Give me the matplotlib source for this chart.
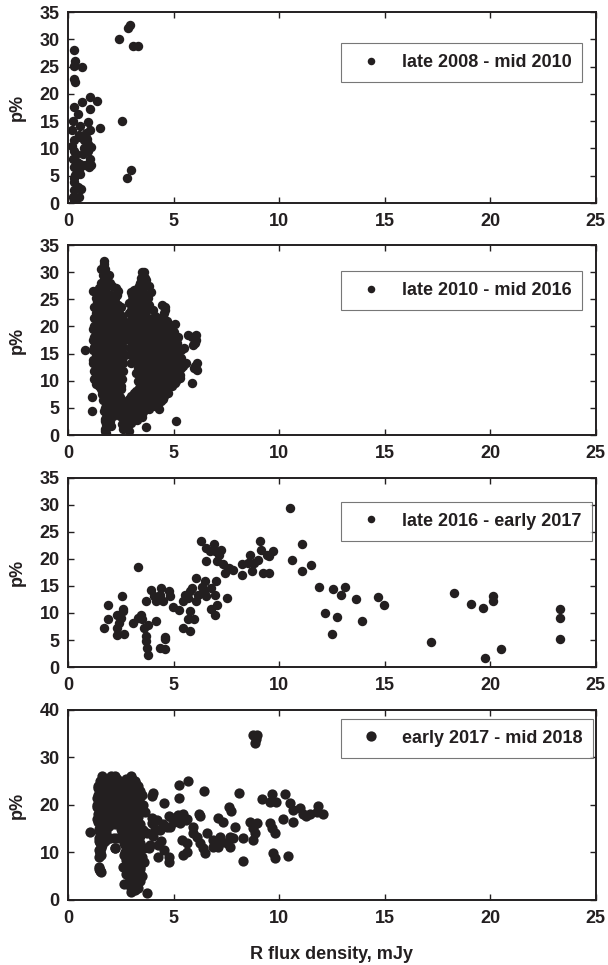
import numpy as np
import matplotlib
matplotlib.use('Agg')
import matplotlib.pyplot as plt

plt.rcParams['font.family'] = ['Liberation Sans', 'DejaVu Sans']
plt.rcParams['font.weight'] = 'bold'

ink = '#231f20'

labels = ['late 2008 - mid 2010', 'late 2010 - mid 2016',
          'late 2016 - early 2017', 'early 2017 - mid 2018']
y_max = [35, 35, 35, 40]
y_step = [5, 5, 5, 10]
x_ticks = [0, 5, 10, 15, 20, 25]

# late 2008 - mid 2010 (R flux, p%)
p1 = [(0.30, 28.1), (0.35, 26.1), (0.30, 25.2), (0.66, 24.9), (0.30, 22.8),
      (0.35, 22.2), (2.40, 30.0), (2.82, 32.0), (2.92, 32.6), (3.08, 28.8),
      (3.30, 28.8), (2.55, 15.0), (2.80, 4.6), (3.00, 6.0), (1.03, 19.4),
      (1.37, 18.7), (0.66, 18.5), (0.30, 17.6), (1.03, 17.3), (0.46, 16.4),
      (1.53, 13.7), (0.24, 15.1), (0.19, 13.4), (0.58, 14.2), (0.93, 14.8),
      (1.03, 13.3), (0.27, 11.5), (0.58, 12.1), (0.74, 11.5), (0.93, 10.9),
      (1.09, 10.3), (0.74, 10.0), (0.39, 9.0), (0.24, 8.1), (1.06, 8.1),
      (0.58, 7.2), (1.00, 6.6), (1.09, 7.0), (0.27, 6.6), (0.50, 6.0),
      (0.35, 5.1), (0.58, 5.4), (0.30, 3.8), (0.60, 2.6), (0.30, 2.3),
      (0.50, 1.1), (0.27, 0.5), (0.35, 0.2), (0.24, 1.1), (0.30, 9.5),
      (0.40, 7.5), (0.30, 4.5), (0.45, 3.0), (0.20, 10.5), (0.50, 12.5),
      (0.85, 12.8), (0.90, 11.8), (0.95, 9.5), (0.80, 7.0), (0.70, 9.0)]

# late 2010 - mid 2016, read row by row: (p%, [R flux ...])
p2_rows = [
    (32.0, [1.70]), (31.5, [1.72]), (30.5, [1.75, 1.55]), (29.5, [1.65, 1.95]),
    (28.5, [1.70, 1.85]), (28.0, [1.55, 2.00]), (27.5, [1.60, 1.90, 2.10]),
    (27.0, [1.45, 1.75, 2.25]), (26.5, [1.20, 1.75, 2.35]), (26.0, [1.35, 1.85]),
    (25.8, [1.55, 2.05, 2.30]), (25.2, [1.30, 1.75, 2.20]),
    (24.5, [1.35, 1.60, 1.90, 2.20]), (24.0, [1.50, 1.75, 2.05, 2.35]),
    (23.5, [1.25, 1.50, 1.80, 2.10, 2.50]), (23.0, [1.35, 1.65, 1.95, 2.30]),
    (22.5, [1.30, 1.65, 2.00, 2.40]), (22.0, [1.45, 1.80, 2.15, 2.55]),
    (21.5, [1.25, 1.50, 1.85, 2.20, 2.55]), (21.0, [1.35, 1.70, 2.05, 2.40]),
    (20.5, [1.35, 1.70, 2.05, 2.45]), (20.0, [1.25, 1.55, 1.90, 2.25, 2.60]),
    (19.5, [1.20, 1.50, 1.85, 2.25, 2.60]), (19.0, [1.35, 1.70, 2.05, 2.45]),
    (18.5, [1.30, 1.65, 2.00, 2.40]), (18.0, [1.25, 1.50, 1.85, 2.20, 2.55]),
    (17.5, [1.20, 1.50, 1.85, 2.20, 2.60]), (17.0, [1.30, 1.70, 2.05, 2.40]),
    (16.5, [1.35, 1.70, 2.05, 2.45]), (16.2, [1.25, 1.55, 1.90, 2.25, 2.60]),
    (15.7, [0.80, 1.20, 1.55, 1.90, 2.30]), (15.2, [1.45, 1.80, 2.15, 2.55]),
    (14.8, [1.30, 1.65, 2.00, 2.40, 2.70]), (14.3, [1.35, 1.70, 2.05, 2.40]),
    (13.8, [1.20, 1.50, 1.85, 2.20, 2.55]), (13.3, [1.20, 1.50, 1.85, 2.25, 2.60]),
    (12.8, [1.30, 1.65, 2.00, 2.40]), (12.3, [1.40, 1.75, 2.10, 2.45]),
    (11.8, [1.25, 1.55, 1.90, 2.25, 2.60]), (11.3, [1.30, 1.65, 2.00, 2.40]),
    (10.8, [1.30, 1.70, 2.05, 2.40]), (10.3, [1.25, 1.50, 1.85, 2.20, 2.55]),
    (9.8, [1.35, 1.65, 2.00, 2.35]), (9.4, [1.30, 1.65, 2.05, 2.40]),
    (9.0, [1.45, 1.85, 2.20, 2.50]), (8.5, [1.55, 1.85, 2.15, 2.50]),
    (8.0, [1.70, 2.00, 2.35]), (7.5, [1.60, 1.90, 2.25]),
    (7.0, [1.15, 1.75, 2.10, 2.45]), (6.5, [1.65, 1.95, 2.30]),
    (6.0, [1.80, 2.15, 2.50]), (5.5, [1.80, 2.10, 2.45]),
    (5.0, [1.75, 2.05, 2.40]), (4.5, [1.12, 1.70, 1.95, 2.30]),
    (4.0, [1.80, 2.10, 2.55]), (3.5, [1.85, 2.15, 2.45]),
    (3.0, [1.75, 2.00, 2.60]), (2.5, [1.75, 2.00, 2.70]), (2.0, [1.80, 2.55]),
    (1.6, [1.85, 2.05, 2.80]), (1.2, [1.75, 2.60]), (0.8, [1.75, 2.90]),
    (0.3, [1.80]),
    (30.0, [3.60, 3.50]), (29.5, [3.55]), (29.0, [3.45, 3.65]),
    (28.5, [3.50, 3.70]), (28.0, [3.40, 3.60]), (27.5, [3.35, 3.60, 3.85]),
    (27.0, [3.30, 3.55]), (26.8, [3.10, 3.45]), (26.3, [3.00, 3.30, 3.95]),
    (25.8, [3.05, 3.35, 3.70]), (25.3, [3.20, 3.50, 3.80]),
    (24.8, [3.05, 3.40, 3.70]), (24.3, [2.90, 3.25, 3.60]),
    (24.0, [3.10, 3.45, 3.85, 4.45]), (23.5, [3.10, 3.45, 3.80, 4.60]),
    (23.0, [3.00, 3.30, 3.60, 4.00, 4.60]), (22.5, [2.90, 3.30, 3.65, 4.55]),
    (22.0, [3.10, 3.50, 4.10, 4.50]), (21.5, [3.10, 3.45, 3.80, 4.40]),
    (21.0, [2.95, 3.30, 3.65, 4.00, 4.35, 4.70]),
    (20.5, [2.85, 3.20, 3.60, 4.20, 4.75, 5.05]),
    (20.0, [3.05, 3.40, 3.85, 4.35, 4.90]),
    (19.5, [3.00, 3.35, 3.75, 4.10, 4.60]),
    (19.0, [2.85, 3.20, 3.60, 3.95, 4.40, 4.80, 5.00]),
    (18.5, [3.20, 3.55, 3.90, 4.35, 4.80, 5.70, 6.05]),
    (18.0, [3.05, 3.45, 3.80, 4.20, 4.60, 5.20, 5.85]),
    (17.5, [2.90, 3.30, 3.65, 4.00, 4.45, 5.00, 6.05]),
    (17.0, [3.20, 3.55, 3.95, 4.35, 4.80, 5.15, 6.00]),
    (16.5, [3.10, 3.45, 3.80, 4.20, 4.70, 5.90]),
    (16.1, [2.95, 3.30, 3.65, 4.00, 4.45, 4.95, 5.50]),
    (15.7, [3.30, 3.70, 4.05, 4.50, 5.35]),
    (15.2, [3.15, 3.55, 3.90, 4.30, 4.75, 5.20]),
    (14.7, [3.00, 3.40, 3.85, 4.25, 4.65, 5.00]),
    (14.2, [3.35, 3.75, 4.15, 4.55, 5.00, 5.35]),
    (13.8, [3.20, 3.60, 4.00, 4.40, 4.85, 5.15]),
    (13.3, [3.00, 3.45, 3.90, 4.30, 4.75, 5.20, 5.60, 6.10]),
    (12.8, [3.40, 3.80, 4.20, 4.60, 5.00, 5.45, 6.00]),
    (12.4, [3.30, 3.70, 4.10, 4.50, 4.90, 5.35, 5.95]),
    (12.0, [3.50, 3.90, 4.35, 4.75, 5.20, 6.10]),
    (11.5, [3.20, 3.60, 4.00, 4.40, 4.80, 5.20]),
    (11.0, [3.70, 4.10, 4.50, 4.90, 5.30]),
    (10.5, [3.50, 3.80, 4.20, 4.60, 5.00, 5.30]),
    (10.0, [3.30, 3.90, 4.30, 4.70, 5.10]),
    (9.5, [3.40, 3.80, 4.20, 4.65, 5.05, 5.85]),
    (9.0, [3.60, 4.00, 4.45, 4.90]), (8.6, [3.35, 3.75, 4.15, 4.55]),
    (8.2, [3.20, 3.50, 3.85, 4.30, 4.70]), (7.7, [3.10, 3.50, 3.90, 4.30, 4.75]),
    (7.2, [3.00, 3.40, 3.75, 4.10, 4.55]), (6.7, [2.90, 3.30, 3.65, 4.05, 4.50]),
    (6.2, [2.80, 3.20, 3.55, 3.95, 4.40]), (5.8, [3.05, 3.45, 3.85, 4.25]),
    (5.3, [2.90, 3.30, 3.70, 4.10]), (4.8, [2.75, 3.10, 3.45, 3.85, 4.30]),
    (4.3, [2.80, 3.20, 3.55]), (3.8, [2.95, 3.35]), (3.3, [2.70, 3.10, 3.50]),
    (2.8, [2.85, 3.25]), (2.6, [5.10]), (2.3, [2.75, 3.00]), (1.4, [2.70, 3.70])]

# late 2016 - early 2017
p3 = [(1.69, 7.2), (1.88, 11.4), (1.88, 8.8), (2.33, 9.7), (2.33, 6.0),
      (2.30, 7.2), (2.42, 8.1), (2.51, 9.1), (2.60, 10.3), (2.55, 13.2),
      (2.64, 6.1), (2.60, 10.8), (3.33, 18.5), (3.06, 8.1), (3.33, 9.1),
      (3.46, 9.7), (3.50, 8.8), (3.60, 7.2), (3.70, 5.7), (3.70, 4.8),
      (3.75, 3.5), (3.79, 2.3), (3.70, 12.2), (3.79, 7.8), (3.93, 14.3),
      (4.06, 13.1), (4.15, 12.2), (4.33, 13.4), (4.42, 14.6), (4.51, 12.2),
      (4.15, 8.5), (4.37, 3.5), (4.60, 3.3), (4.60, 5.5), (4.60, 5.1),
      (4.78, 14.0), (4.84, 13.1), (4.97, 11.2), (5.25, 10.6), (5.43, 12.2),
      (5.52, 13.4), (5.43, 7.3), (5.70, 12.8), (5.79, 14.0), (5.88, 14.6),
      (5.79, 10.3), (5.70, 8.8), (5.79, 6.6), (5.97, 8.8), (6.07, 12.2),
      (6.07, 16.5), (6.16, 13.4), (6.30, 23.3), (6.34, 14.9), (6.43, 14.0),
      (6.48, 15.9), (6.52, 13.1), (6.52, 19.7), (6.52, 22.0), (6.70, 21.4),
      (6.79, 14.6), (6.79, 10.7), (6.92, 22.7), (6.98, 21.4), (7.00, 15.9),
      (6.94, 13.4), (7.07, 19.6), (7.07, 11.5), (6.98, 9.7), (7.16, 20.8),
      (7.25, 21.7), (7.34, 19.0), (7.43, 17.4), (7.52, 12.8), (7.61, 18.3),
      (7.80, 18.0), (8.25, 17.1), (8.25, 19.0), (8.52, 19.3), (8.61, 20.8),
      (8.71, 17.7), (8.80, 19.3), (8.98, 19.9), (9.07, 23.3), (9.16, 21.7),
      (9.25, 17.4), (9.43, 20.8), (9.52, 17.4), (9.71, 21.4), (9.52, 20.5),
      (10.50, 29.4), (10.62, 19.9), (11.07, 22.7), (11.07, 17.7), (11.49, 18.8),
      (11.89, 14.8), (12.17, 10.0), (12.53, 14.4), (12.50, 6.2), (12.75, 9.2),
      (12.93, 13.3), (13.10, 14.8), (13.66, 12.5), (13.90, 8.5), (14.68, 12.9),
      (14.95, 11.4), (17.18, 4.6), (18.30, 13.7), (19.09, 11.7), (19.64, 10.9),
      (19.73, 1.7), (20.13, 13.1), (20.13, 12.3), (20.51, 3.3), (23.28, 10.7),
      (23.31, 9.0), (23.31, 5.1)]

# early 2017 - mid 2018: dense part by rows, the rest as single points
p4_rows = [
    (26.0, [1.60, 2.05, 2.20, 3.00]), (25.5, [1.65, 1.95, 2.30, 2.75, 3.05]),
    (25.0, [1.50, 1.80, 2.10, 2.40, 2.90, 3.15]),
    (24.5, [1.55, 1.85, 2.15, 2.55, 2.85, 3.20]),
    (24.0, [1.40, 1.70, 2.00, 2.30, 2.70, 3.00, 3.30]),
    (23.5, [1.40, 1.70, 2.00, 2.35, 2.90, 3.25]),
    (23.0, [1.55, 1.85, 2.15, 2.50, 3.10, 3.40]),
    (22.5, [1.55, 1.85, 2.20, 2.60, 3.00, 3.35]),
    (22.0, [1.40, 1.70, 2.00, 2.40, 2.80, 3.20, 3.50]),
    (21.5, [1.35, 1.70, 2.05, 2.40, 2.80, 3.20]),
    (21.0, [1.50, 1.85, 2.20, 2.60, 3.00]),
    (20.5, [1.50, 1.85, 2.20, 2.60, 3.00, 3.40]),
    (20.0, [1.35, 1.65, 2.00, 2.35, 2.80, 3.20, 3.55]),
    (19.5, [1.35, 1.70, 2.05, 2.40, 2.80, 3.20]),
    (19.0, [1.50, 1.85, 2.20, 2.60, 3.00, 3.40]),
    (18.5, [1.55, 1.90, 2.25, 2.65, 3.05, 3.45]),
    (18.0, [1.40, 1.70, 2.05, 2.45, 2.85, 3.25]),
    (17.5, [1.50, 1.80, 2.15, 2.50, 2.90, 3.30]),
    (17.0, [1.35, 1.60, 1.95, 2.30, 2.70, 3.10]),
    (16.5, [1.40, 1.70, 2.05, 2.45, 2.80, 3.20]),
    (16.0, [1.50, 1.85, 2.20, 2.60, 3.00, 3.40]), (15.5, [1.60, 1.95, 2.70, 3.10]),
    (15.0, [1.45, 1.75, 2.50, 2.90, 3.30]), (14.5, [1.45, 1.80, 2.55, 2.95, 3.30]),
    (14.0, [1.60, 2.70, 3.10, 3.50]), (13.5, [1.60, 2.55, 3.00, 3.40]),
    (13.0, [1.45, 2.00, 2.30, 2.80, 3.20]), (12.5, [1.45, 1.75, 2.80, 3.20]),
    (12.0, [1.50, 2.65, 3.00, 3.40]), (11.5, [1.60, 2.70, 3.05, 3.40]),
    (11.0, [1.55, 2.20, 2.80, 3.20, 3.60]), (10.5, [1.45, 2.85, 3.20]),
    (10.0, [1.50, 2.70, 3.00, 3.35]), (9.5, [1.55, 2.65, 2.95, 3.30]),
    (9.0, [1.45, 2.75, 3.10, 3.50]), (8.5, [2.75, 3.10, 3.45]),
    (8.0, [2.90, 3.25, 3.60]), (7.5, [2.80, 3.20]), (7.0, [1.45, 2.60, 3.00, 3.40]),
    (6.5, [1.45, 3.05, 3.40]), (6.0, [1.50, 2.90, 3.25]), (5.5, [2.75, 3.05, 3.40]),
    (5.0, [2.90, 3.20, 3.50]), (4.5, [2.95, 3.30]), (4.0, [3.10, 3.40]),
    (3.3, [2.65, 3.20]), (2.5, [3.00, 3.30]), (2.0, [3.15]), (1.6, [3.00])]
p4 = [(1.06, 14.4), (8.77, 34.7), (8.93, 34.7), (8.90, 33.8), (8.85, 33.0),
      (5.70, 25.1), (5.23, 24.2), (6.44, 23.0), (8.11, 22.6), (10.27, 22.3),
      (9.64, 22.3), (5.23, 21.4), (4.52, 20.4), (7.64, 19.6), (7.70, 18.8),
      (6.20, 18.2), (6.23, 17.7), (5.43, 18.2), (5.62, 17.1), (4.76, 17.7),
      (5.00, 16.5), (5.31, 16.1), (7.12, 17.2), (7.35, 16.5), (7.90, 15.4),
      (8.61, 16.5), (8.77, 15.1), (8.93, 16.1), (9.56, 16.1), (9.80, 14.0),
      (9.64, 15.1), (10.19, 17.0), (10.50, 20.4), (9.56, 20.6), (9.87, 20.7),
      (9.17, 21.2), (10.66, 18.9), (10.98, 19.3), (11.14, 18.2), (10.66, 16.5),
      (11.45, 18.2), (11.77, 18.6), (11.85, 19.8), (12.08, 18.1), (11.29, 17.6),
      (5.94, 15.4), (6.10, 13.3), (5.90, 14.0), (5.39, 12.6), (5.62, 11.9),
      (5.43, 9.5), (5.62, 10.2), (6.25, 11.9), (6.41, 10.9), (6.49, 9.8),
      (6.88, 11.2), (7.12, 11.2), (7.28, 12.3), (7.51, 11.9), (7.67, 13.3),
      (7.83, 13.0), (7.67, 11.2), (7.20, 13.3), (6.88, 12.6), (6.57, 14.0),
      (8.30, 13.0), (8.27, 8.3), (8.77, 12.6), (8.85, 14.0), (9.72, 9.8),
      (9.80, 8.8), (10.43, 9.3), (4.83, 15.4), (4.36, 14.7), (4.20, 16.8),
      (4.28, 11.6), (4.52, 10.5), (4.28, 9.1), (4.76, 9.1), (4.76, 7.9),
      (3.97, 16.1), (3.75, 14.0), (3.57, 14.7), (3.81, 10.9), (3.97, 17.2),
      (3.97, 21.8), (4.01, 22.5), (3.65, 18.6), (3.73, 1.4), (1.53, 6.3),
      (1.58, 5.8), (1.53, 9.8), (1.50, 13.3), (2.24, 10.9), (2.16, 13.0),
      (1.92, 13.0), (4.50, 16.0), (4.90, 17.2), (5.20, 17.9), (5.60, 16.8),
      (4.70, 15.3), (4.40, 12.5), (4.00, 13.5), (3.90, 11.5), (4.10, 15.0)]


def from_rows(rows):
    return [(x, y) for y, xs in rows for x in xs]


series = [p1, from_rows(p2_rows), p3, from_rows(p4_rows) + p4]
msize = [6.8, 6.8, 6.8, 7.4]
leg_scale = [0.8, 0.8, 0.8, 1.0]

# axes rectangles in figure fraction
rects = [(0.112, 0.7896, 0.868, 0.1979), (0.112, 0.5492, 0.868, 0.1969),
         (0.112, 0.3088, 0.868, 0.1959), (0.112, 0.0674, 0.868, 0.1969)]
leg_top = [0.838, 0.863, 0.873, 0.953]

fig = plt.figure(figsize=(6.08, 9.65), dpi=100)
for i in range(4):
    ax = fig.add_axes(rects[i])
    pts = np.array(series[i])
    ax.plot(pts[:, 0], pts[:, 1], 'o', color=ink, markersize=msize[i],
            markeredgewidth=0, label=labels[i])
    ax.set_xlim(0, 25)
    ax.set_ylim(0, y_max[i])
    ax.set_xticks(x_ticks)
    ax.set_yticks(np.arange(0, y_max[i] + 1, y_step[i]))
    ax.tick_params(direction='in', top=True, right=True, length=4, width=1,
                   colors=ink, labelsize=13)
    ax.tick_params(axis='x', pad=7)
    ax.tick_params(axis='y', pad=6)
    for lab in ax.get_xticklabels() + ax.get_yticklabels():
        lab.set_fontweight('bold')
    for s in ax.spines.values():
        s.set_linewidth(1.4)
        s.set_color(ink)
    ax.set_ylabel('p%', fontsize=13, fontweight='bold', color=ink)
    ax.yaxis.set_label_coords(-0.08, 0.5)
    leg = ax.legend(loc='upper left', bbox_to_anchor=(0.517, leg_top[i]),
                    borderaxespad=0, fancybox=False,
                    prop={'size': 13, 'weight': 'bold'},
                    handlelength=2.1, handletextpad=0.66, borderpad=0.6,
                    numpoints=1, markerscale=leg_scale[i])
    leg.get_frame().set_edgecolor('#555555')
    leg.get_frame().set_linewidth(0.8)
    for t in leg.get_texts():
        t.set_color(ink)
    if i == 3:
        ax.set_xlabel('R flux density, mJy', fontsize=13, fontweight='bold',
                      color=ink, labelpad=14)

plt.savefig('out.png', dpi=100)
